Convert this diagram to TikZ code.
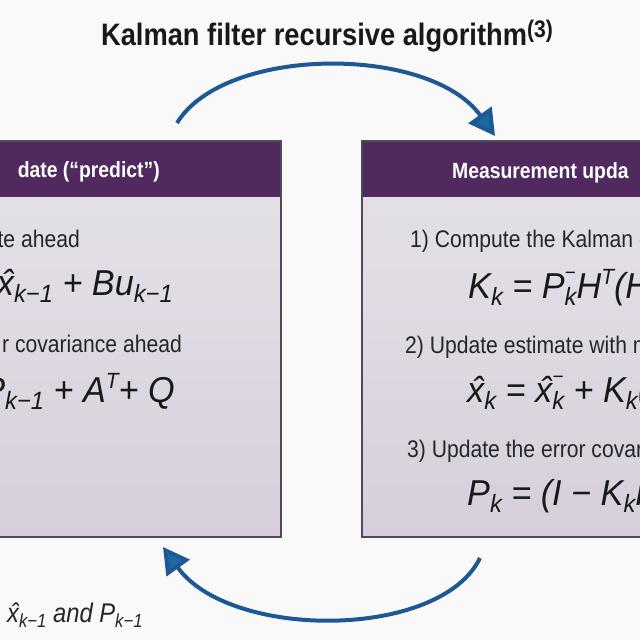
\documentclass[tikz,border=0pt]{standalone}
\usepackage{fontspec}
\setmainfont{Liberation Sans}[FakeStretch=0.88]
\newfontfamily\fm{Liberation Sans}[FakeStretch=0.95]
\usetikzlibrary{arrows.meta}
\definecolor{hdr}{RGB}{80,42,94}
\definecolor{bodytop}{RGB}{230,226,233}
\definecolor{bodybot}{RGB}{214,207,219}
\definecolor{boxline}{RGB}{80,74,86}
\definecolor{arrowc}{RGB}{30,88,148}
\definecolor{bg}{RGB}{249,249,249}
\newcommand\fsub[1]{\raisebox{-7pt}{\fontsize{25}{25}\selectfont #1}}
\newcommand\fsup[1]{\raisebox{14pt}{\fontsize{22}{22}\selectfont #1}}
\newcommand\fss[2]{\rlap{\raisebox{19pt}{\fontsize{20}{20}\selectfont #1}}\raisebox{-7pt}{\fontsize{25}{25}\selectfont #2}}
\newcommand\csub[1]{\raisebox{-5pt}{\fontsize{19}{19}\selectfont #1}}
\newcommand\xh{\rlap{\hspace{0.14em}ˆ}x}
\tikzset{
  body/.style={draw=boxline, line width=1.5pt, top color=bodytop, bottom color=bodybot},
  head/.style={fill=hdr},
  txt/.style={inner sep=0pt, font=\fontsize{24}{28}\selectfont, text=black!85},
  htxt/.style={inner sep=0pt, font=\fontsize{22}{26}\selectfont\bfseries, text=white},
  frm/.style={inner sep=0pt, font=\fm\itshape\fontsize{36}{40}\selectfont, text=black!90},
  captxt/.style={inner sep=0pt, font=\itshape\fontsize{27}{30}\selectfont, text=black!85},
  ttl/.style={inner sep=0pt, font=\fontsize{31}{36}\selectfont\bfseries, text=black!90},
  arr/.style={line width=4pt, draw=arrowc, -{Triangle[length=26pt,width=28pt,fill=arrowc!90!cyan]}}
}
\begin{document}
\begin{tikzpicture}[x=1pt,y=-1pt]
\useasboundingbox (0,0) rectangle (640,640);
\fill[bg] (0,0) rectangle (640,640);
\clip (0,0) rectangle (640,640);
% boxes
\draw[body] (-10,141) rectangle (281,537);
\fill[head] (-10,141) rectangle (281,197);
\draw[boxline, line width=1.5pt] (-10,141) rectangle (281,537);
\draw[body] (362,141) rectangle (660,537);
\fill[head] (362,141) rectangle (660,197);
\draw[boxline, line width=1.5pt] (362,141) rectangle (660,537);
% title
\node[ttl, anchor=base] (title) at (327,45) {Kalman filter recursive algorithm\raisebox{8pt}{\fontsize{24}{24}\selectfont (3)}};
% left box texts
\node[htxt, anchor=base east] (lh) at (160,177) {date (“predict”)};
\node[txt, anchor=base east] (l1) at (80,247) {te ahead};
\node[frm, anchor=base east] (l2) at (173,295) {\xh\fsub{k−1} + Bu\fsub{k−1}};
\node[txt, anchor=base east] (l3) at (182,352) {r covariance ahead};
\node[frm, anchor=base east] (l4) at (175,402) {P\fsub{k−1} + A\fsup{T}+ Q};
% right box texts
\node[htxt, anchor=base west] (rh) at (452,178) {Measurement upda};
\node[txt, anchor=base west] (r1) at (410,247) {1) Compute the Kalman g};
\node[frm, anchor=base west] (r2) at (468,298) {K\fsub{k} = P\fss{−}{k}H\fsup{T}(H};
\node[txt, anchor=base west] (r3) at (405,353) {2) Update estimate with m};
\node[frm, anchor=base west] (r4) at (467,402) {\xh\fsub{k} = \xh\fss{−}{k} + K\fsub{k}(};
\node[txt, anchor=base west] (r5) at (407,457) {3) Update the error covari};
\node[frm, anchor=base west] (r6) at (467,505) {P\fsub{k} = (I − K\fsub{k}H};
% caption
\node[captxt, anchor=base west] (c1) at (7,622) {\xh\csub{k−1} and P\csub{k−1}};
% arrows
\coordinate (ts) at (177,123);
\coordinate (te) at (495,136);
\coordinate (bs) at (480,558);
\coordinate (be) at (163,547);
\draw[arr] (ts) .. controls (225,45) and (430,45) .. (te);
\draw[arr] (bs) .. controls (440,640) and (230,640) .. (be);
\end{tikzpicture}
\end{document}
